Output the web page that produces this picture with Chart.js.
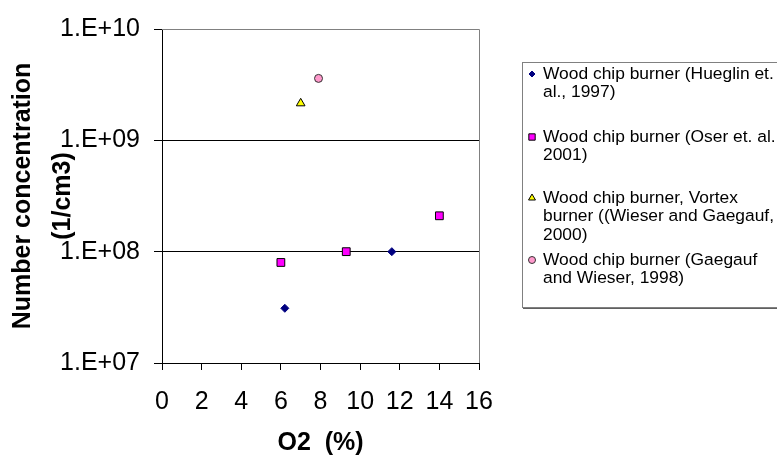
<!DOCTYPE html>
<html>
<head>
<meta charset="utf-8">
<script src="https://cdn.jsdelivr.net/npm/chart.js@4.4.1/dist/chart.umd.min.js"></script>
<style>
  html, body { margin: 0; padding: 0; background: #fff; }
  canvas { display: block; }
</style>
</head>
<body>
<canvas id="chart-o2" width="777" height="456"></canvas>
<script>
// values
const HUEGLIN = [{ x: 6.2, y: 3.1e7 }, { x: 11.6, y: 1.0e8 }];
const OSER    = [{ x: 6.0, y: 8.0e7 }, { x: 9.3, y: 1.0e8 }, { x: 14.0, y: 2.1e8 }];
const VORTEX  = [{ x: 7.0, y: 2.15e9 }];
const GAEGAUF = [{ x: 7.9, y: 3.6e9 }];

const Y_TICKS = [1e7, 1e8, 1e9, 1e10];
const X_MIN = 0, X_MAX = 16, X_STEP = 2;

const LABELS = [
  ['Wood chip burner (Hueglin et.', 'al., 1997)'],
  ['Wood chip burner (Oser et. al.,', '2001)'],
  ['Wood chip burner, Vortex', 'burner ((Wieser and Gaegauf,', '2000)'],
  ['Wood chip burner (Gaegauf', 'and Wieser, 1998)']
];
const X_TITLE = 'O2  (%)';
const Y_TITLE = ['Number concentration', '(1/cm3)'];

const FONT = "Arial, 'Liberation Sans', sans-serif";

// legend layout (first text line of each entry)
const LEG_Y = [74, 137, 198, 260];
const LEG_LH = 18.5;

const fmtTick = v => '1.E+' + String(Math.round(Math.log10(v))).padStart(2, '0');

const decor = {
  id: 'decor',
  afterDatasetsDraw(chart) {
    const { ctx, chartArea: a } = chart;
    ctx.save();
    // plot area frame, top and right
    ctx.strokeStyle = '#808080';
    ctx.lineWidth = 1;
    ctx.beginPath();
    ctx.moveTo(a.left, a.top + 0.5);
    ctx.lineTo(a.right + 0.5, a.top + 0.5);
    ctx.lineTo(a.right + 0.5, a.bottom);
    ctx.stroke();
    ctx.restore();
  },
  afterDraw(chart) {
    const { ctx, chartArea: a } = chart;
    ctx.save();
    ctx.fillStyle = '#000';
    ctx.font = 'bold 25px ' + FONT;
    ctx.textAlign = 'center';
    ctx.textBaseline = 'middle';
    ctx.fillText(X_TITLE, (a.left + a.right) / 2, 443);

    ctx.save();
    ctx.translate(0, (a.top + a.bottom) / 2);
    ctx.rotate(-Math.PI / 2);
    ctx.fillText(Y_TITLE[0], 0, 23);
    ctx.fillText(Y_TITLE[1], 0, 63);
    ctx.restore();

    // legend
    ctx.strokeStyle = '#808080';
    ctx.lineWidth = 1;
    ctx.strokeRect(522.5, 62.5, 320, 245);
    ctx.strokeStyle = '#606060';
    ctx.beginPath();
    ctx.moveTo(523, 308.5);
    ctx.lineTo(800, 308.5);
    ctx.stroke();

    ctx.font = '17.4px ' + FONT;
    ctx.textAlign = 'left';
    chart.data.datasets.forEach((ds, i) => {
      const y0 = LEG_Y[i];
      ctx.fillStyle = ds.backgroundColor;
      ctx.strokeStyle = ds.borderColor;
      ctx.lineWidth = ds.borderWidth;
      Chart.helpers.drawPoint(ctx, {
        pointStyle: ds.pointStyle,
        radius: ds.legendRadius,
        rotation: 0,
        borderWidth: ds.borderWidth
      }, 532, y0);
      ctx.fillStyle = '#000';
      LABELS[i].forEach((line, j) => ctx.fillText(line, 543, y0 + j * LEG_LH));
    });
    ctx.restore();
  }
};

new Chart(document.getElementById('chart-o2'), {
  type: 'scatter',
  data: {
    datasets: [
      { label: LABELS[0].join(' '), data: HUEGLIN, pointStyle: 'rectRot', pointRadius: 4,
        backgroundColor: '#000080', borderColor: '#000080', borderWidth: 1, legendRadius: 3 },
      { label: LABELS[1].join(' '), data: OSER, pointStyle: 'rect', pointRadius: 5.5,
        backgroundColor: '#FF00FF', borderColor: '#000000', borderWidth: 1, legendRadius: 4.5 },
      { label: LABELS[2].join(' '), data: VORTEX, pointStyle: 'triangle', pointRadius: 5,
        backgroundColor: '#FFFF00', borderColor: '#000000', borderWidth: 1, legendRadius: 4 },
      { label: LABELS[3].join(' '), data: GAEGAUF, pointStyle: 'circle', pointRadius: 4,
        backgroundColor: '#FF99CC', borderColor: '#333333', borderWidth: 1, legendRadius: 3.5 }
    ]
  },
  options: {
    responsive: false,
    animation: false,
    layout: { padding: { top: 23, right: 298, left: 0, bottom: 0 } },
    plugins: { legend: { display: false }, tooltip: { enabled: false } },
    scales: {
      x: {
        type: 'linear', min: X_MIN, max: X_MAX,
        afterFit: s => { s.height = 93; },
        ticks: { stepSize: X_STEP, color: '#000', padding: 17, font: { family: FONT, size: 25 } },
        grid: { drawOnChartArea: false, tickLength: 7, tickColor: '#000' },
        border: { display: true, color: '#000', width: 1 }
      },
      y: {
        type: 'logarithmic', min: Y_TICKS[0], max: Y_TICKS[Y_TICKS.length - 1],
        afterFit: s => { s.width = 162; },
        afterBuildTicks: s => { s.ticks = Y_TICKS.map(v => ({ value: v })); },
        ticks: { color: '#000', padding: 14, font: { family: FONT, size: 25 }, callback: fmtTick },
        grid: {
          tickLength: 8, tickColor: '#000', lineWidth: 1,
          color: c => (c.tick && (c.tick.value === 1e8 || c.tick.value === 1e9)) ? '#000' : 'rgba(0,0,0,0)'
        },
        border: { display: true, color: '#000', width: 1 }
      }
    }
  },
  plugins: [decor]
});
</script>
</body>
</html>
